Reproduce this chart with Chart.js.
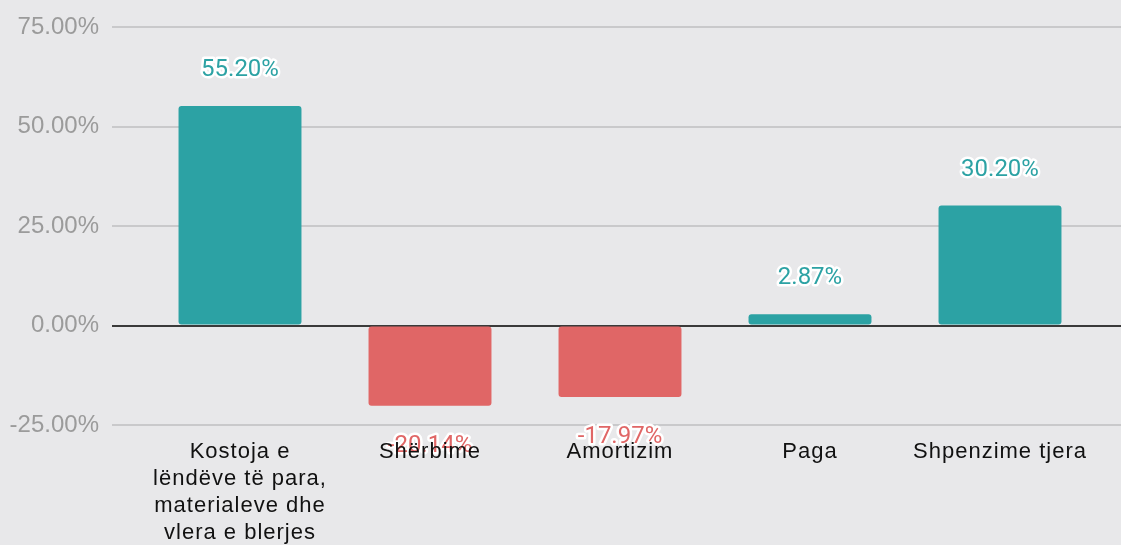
<!DOCTYPE html>
<html>
<head>
<meta charset="utf-8">
<script src="https://cdn.jsdelivr.net/npm/chart.js@4/dist/chart.umd.min.js"></script>
<style>
  html, body { margin: 0; padding: 0; background: #e8e8ea; }
  canvas { display: block; }
</style>
</head>
<body>
<canvas id="myChart" width="1121" height="545"></canvas>
<script>
// data
const categories = [
  ['Kostoja e', 'lëndëve të para,', 'materialeve dhe', 'vlera e blerjes'],
  'Shërbime',
  'Amortizim',
  'Paga',
  'Shpenzime tjera'
];
const values = [55.20, -20.14, -17.97, 2.87, 30.20];
const yTicks = [-25, 0, 25, 50, 75];

const teal = '#2ca2a4';
const red = '#e06666';

// labels above / below each bar, white outline
const valueLabels = {
  id: 'valueLabels',
  afterDatasetsDraw(chart) {
    const ctx = chart.ctx;
    const meta = chart.getDatasetMeta(0);
    ctx.save();
    ctx.font = '24px Roboto';
    ctx.textAlign = 'center';
    ctx.textBaseline = 'alphabetic';
    ctx.lineJoin = 'round';
    ctx.lineWidth = 5;
    ctx.strokeStyle = '#ffffff';
    meta.data.forEach(function(bar, i) {
      const v = values[i];
      const txt = v.toFixed(2) + '%';
      const y = v >= 0 ? bar.y - 30 : bar.y + 46;
      ctx.fillStyle = v >= 0 ? teal : red;
      ctx.strokeText(txt, bar.x, y);
      ctx.fillText(txt, bar.x, y);
    });
    ctx.restore();
  }
};

// x labels in the reference are spaced out a little
const spacedXLabels = {
  id: 'spacedXLabels',
  afterLayout(chart) {
    const sc = chart.scales.x;
    if (sc && !sc._spaced) {
      const orig = sc.drawLabels;
      sc.drawLabels = function(area) {
        this.ctx.save();
        this.ctx.letterSpacing = '1px';
        orig.call(this, area);
        this.ctx.restore();
      };
      sc._spaced = true;
    }
  }
};

const gridColor = function(c) {
  return c.tick && c.tick.value === 0 ? '#3a3a3a' : '#c9c9cb';
};

const ctx = document.getElementById('myChart').getContext('2d');
new Chart(ctx, {
  type: 'bar',
  data: {
    labels: categories,
    datasets: [{
      data: values,
      backgroundColor: values.map(v => v >= 0 ? teal : red),
      borderRadius: 3,
      borderSkipped: false,
      categoryPercentage: 1,
      barPercentage: 0.647
    }]
  },
  options: {
    responsive: false,
    animation: false,
    layout: { padding: { top: 25, right: 0, left: 0, bottom: 0 } },
    plugins: {
      legend: { display: false },
      tooltip: { enabled: false }
    },
    scales: {
      x: {
        grid: { display: false, drawTicks: false },
        border: { display: false },
        ticks: {
          z: 1,
          padding: 13,
          color: '#111111',
          maxRotation: 0,
          autoSkip: false,
          font: { family: 'Liberation Sans', size: 22, lineHeight: 1.23 }
        },
        afterFit: function(scale) { scale.height = 120; }
      },
      y: {
        position: 'left',
        min: -25,
        max: 75,
        afterBuildTicks: function(scale) { scale.ticks = yTicks.map(v => ({ value: v })); },
        grid: { color: gridColor, lineWidth: 2, drawTicks: true, tickLength: 33 },
        border: { display: false },
        ticks: {
          padding: 13,
          color: '#9b9b9b',
          font: { family: 'Liberation Sans', size: 24 },
          callback: v => v.toFixed(2) + '%'
        },
        afterFit: function(scale) { scale.width = 145; }
      },
      y2: {
        position: 'right',
        min: -25,
        max: 75,
        afterBuildTicks: function(scale) { scale.ticks = yTicks.map(v => ({ value: v })); },
        grid: { color: gridColor, lineWidth: 2, drawOnChartArea: false, drawTicks: true, tickLength: 26 },
        border: { display: false },
        ticks: { display: false },
        afterFit: function(scale) { scale.width = 26; }
      }
    }
  },
  plugins: [valueLabels, spacedXLabels]
});
</script>
</body>
</html>
